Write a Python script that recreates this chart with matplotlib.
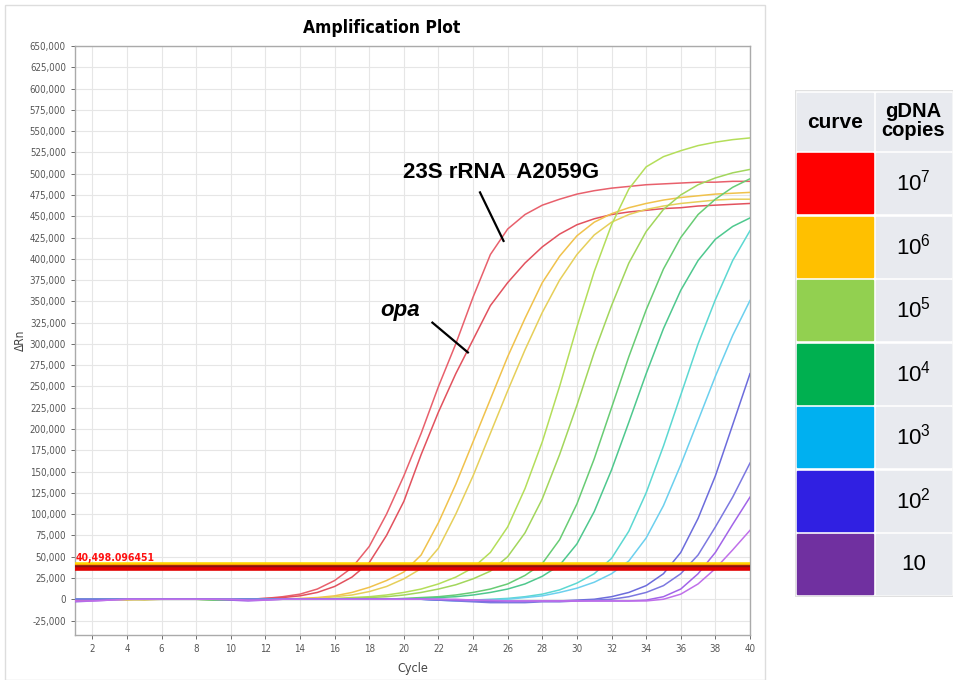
import numpy as np
import matplotlib
matplotlib.use('Agg')
import matplotlib.pyplot as plt
from matplotlib.patches import Rectangle
from matplotlib import font_manager

plt.rcParams['mathtext.fontset'] = 'custom'
plt.rcParams['mathtext.rm'] = 'Liberation Sans'
plt.rcParams['mathtext.it'] = 'Liberation Sans:italic'

# cycle numbers and delta Rn values (thousands)
cycles = np.arange(1, 41)

red_23s = [-2,-1,0,0,0,0,0,0,0,0, 0,1,3,6,12,22,37,62,100,145,
           195,250,300,355,405,435,452,463,470,476, 480,483,485,487,488,489,490,490,491,491]
red_opa = [-1,0,0,0,0,0,0,0,0,0, 0,1,2,4,8,15,26,43,75,115,
           170,220,265,305,345,372,395,414,429,440, 447,452,455,457,459,460,462,463,464,465]
yel_1 = [0,0,0,-1,0,0,0,0,0,0, 0,0,0,1,2,4,8,14,22,32,
         52,90,135,185,235,285,330,372,403,427, 443,453,460,465,469,472,474,476,477,478]
yel_2 = [0,0,0,0,-1,0,0,0,0,0, 0,0,0,0,1,3,5,9,15,24,
         36,60,100,145,195,245,293,337,375,405, 428,443,452,458,462,465,467,469,470,470]
lgr_1 = [0,0,0,0,0,0,0,0,-1,0, 0,0,0,0,0,1,2,3,5,8,
         12,18,26,37,55,85,130,185,250,320, 385,440,482,508,520,527,533,537,540,542]
lgr_2 = [0,0,0,0,0,0,0,0,0,0, 0,0,0,0,0,0,1,2,3,5,
         8,12,17,24,33,50,78,118,170,228, 290,345,395,432,458,475,487,495,501,505]
grn_1 = [0,0,0,0,0,0,0,0,-1,-1, 0,0,0,0,0,0,0,0,0,1,
         2,3,5,8,12,18,28,42,70,112, 165,225,285,340,388,425,452,470,484,494]
grn_2 = [0,0,0,0,0,0,0,0,0,0, 0,0,0,0,0,0,0,0,0,0,
         1,2,3,5,8,12,18,27,40,65, 103,152,208,265,318,363,398,423,438,448]
cya_1 = [0,0,0,0,0,0,0,0,0,0, 0,0,0,0,0,0,0,0,0,0,
         0,0,-1,-1,0,1,3,6,11,19, 30,48,80,125,180,240,300,352,398,433]
cya_2 = [0,0,0,0,0,0,0,0,0,0, 0,0,0,0,0,0,0,0,0,0,
         0,-1,-2,-2,-1,0,2,4,8,13, 20,30,45,72,110,158,210,262,310,351]
blu_1 = [0,0,0,0,0,0,0,0,0,0, 0,0,0,0,0,0,0,0,0,0,
         0,-1,-1,-2,-3,-3,-3,-2,-2,-1, 0,3,8,16,30,55,95,145,205,265]
blu_2 = [0,0,0,0,0,0,0,0,0,0, 0,0,0,0,0,0,0,0,0,0,
         0,-1,-2,-3,-4,-4,-4,-3,-3,-2, -1,0,3,8,16,30,52,85,120,160]
pur_1 = [-3,-2,-1,0,0,0,0,0,0,-1, -2,-1,0,0,0,0,0,0,0,0,
         0,0,-1,-1,-2,-2,-2,-2,-2,-2, -2,-2,-2,-1,3,12,30,55,88,120]
pur_2 = [-2,-2,-1,0,0,0,0,0,0,0, -1,-1,0,0,0,0,0,0,0,0,
         0,0,0,-1,-1,-2,-2,-2,-2,-2, -2,-2,-2,-2,0,6,18,36,58,81]

curves = [red_23s, red_opa, yel_1, yel_2, lgr_1, lgr_2, grn_1, grn_2,
          cya_1, cya_2, blu_1, blu_2, pur_1, pur_2]
curve_colors = ['#e8606c', '#e2525e', '#f0c24c', '#e6cf5a', '#b4de5a', '#a2d65c',
                '#68cc74', '#4ec88e', '#5cd8d2', '#6cd0ee', '#6c6cdc', '#7c78e0',
                '#a264e8', '#c070ea']

# threshold lines (thousands)
thresholds = [41.5, 39.5, 37.5, 36.0]
thr_colors = ['#ffd400', '#ff9a00', '#8b1010', '#e00000']
thr_label = '40,498.096451'

# legend table
copies = [r'$\mathrm{10^{7}}$', r'$\mathrm{10^{6}}$', r'$\mathrm{10^{5}}$',
          r'$\mathrm{10^{4}}$', r'$\mathrm{10^{3}}$', r'$\mathrm{10^{2}}$', '10']
copy_colors = ['#ff0000', '#ffc000', '#92d050', '#00b050', '#00b0f0', '#3020e2', '#7030a0']

# condensed face if the system has one, otherwise plain DejaVu Sans
narrow_fp = font_manager.FontProperties(family='DejaVu Sans', stretch='condensed')
arial = ['Liberation Sans', 'DejaVu Sans']

fig = plt.figure(figsize=(9.54, 6.8), dpi=100)
W, H = 954, 680

# outer frame of the instrument panel
fig.patches.append(Rectangle((5/W, 0), 760/W, 675/H, transform=fig.transFigure,
                             fill=False, edgecolor='#dddddd', lw=1))

ax = fig.add_axes([75/W, 1-635/H, 675/W, 589/H])
for c, col in zip(curves, curve_colors):
    ax.plot(cycles, np.array(c) * 1000, color=col, lw=1.1, zorder=3)
for t, col in zip(thresholds, thr_colors):
    ax.axhline(t * 1000, color=col, lw=2.6, zorder=4)

ax.text(1.05, 44500, thr_label, color='#ff1010', fontproperties=narrow_fp,
        fontsize=7.5, fontweight='bold', zorder=5)

ax.set_xlim(1, 40)
ax.set_ylim(-42000, 650000)
ax.set_xticks(range(2, 41, 2))
yt = np.arange(-25000, 650001, 25000)
ax.set_yticks(yt)
ax.set_yticklabels([f'{v:,}' for v in yt])
ax.grid(True, color='#e6e6e6', lw=0.8, zorder=0)
ax.tick_params(axis='both', colors='#555555', length=3, width=0.6)
for lab in ax.get_xticklabels() + ax.get_yticklabels():
    lab.set_fontproperties(narrow_fp)
    lab.set_fontsize(7)
for s in ax.spines.values():
    s.set_color('#aaaaaa')
    s.set_linewidth(1)

ax.set_xlabel('Cycle', color='#444444', labelpad=6, fontproperties=narrow_fp)
ax.xaxis.label.set_fontsize(9)
ax.set_ylabel('ΔRn', color='#444444', labelpad=2, fontproperties=narrow_fp)
ax.yaxis.label.set_fontsize(8.5)

# title is centred on the whole panel, not the axes
fig.text(382/W, 1-28/H, 'Amplification Plot', ha='center', va='center',
         fontproperties=narrow_fp, fontsize=12.5, fontweight='bold')

# target annotations
ax.text(25.6, 501000, '23S rRNA  A2059G', fontsize=16, fontweight='bold',
        family=arial, ha='center', va='center', zorder=6)
ax.plot([24.4, 25.76], [478000, 421000], color='black', lw=1.6, zorder=6)
ax.text(19.8, 339000, 'opa', fontsize=16, fontweight='bold', style='italic',
        family=arial, ha='center', va='center', zorder=6)
ax.plot([21.65, 23.7], [325000, 290000], color='black', lw=1.6, zorder=6)

# legend table on the right
tx = fig.add_axes([795/W, 1-597/H, 158/W, 507/H])
tx.set_xlim(795, 953)
tx.set_ylim(597, 90)
tx.axis('off')
tx.add_patch(Rectangle((795, 90), 158, 506, fill=False, edgecolor='#e0e0e0', lw=1))
cell_bg = '#e8eaef'
tx.add_patch(Rectangle((797, 93), 76, 57, color=cell_bg))
tx.add_patch(Rectangle((876, 93), 75, 57, color=cell_bg))
tx.text(835, 123, 'curve', fontsize=15, fontweight='bold', ha='center', va='center',
        family=arial)
tx.text(913.5, 121, 'gDNA\ncopies', fontsize=14.5, fontweight='bold', ha='center',
        va='center', linespacing=0.95, family=arial)
row_top = 153
row_h = 60
gap = 3.5
for i, (lab, col) in enumerate(zip(copies, copy_colors)):
    y0 = row_top + i * (row_h + gap)
    tx.add_patch(Rectangle((797, y0), 76, row_h, color=col))
    tx.add_patch(Rectangle((876, y0), 75, row_h, color=cell_bg))
    tx.text(913.5, y0 + row_h / 2, lab, fontsize=16, ha='center', va='center',
            family=arial)

fig.savefig('out.png', dpi=100)
